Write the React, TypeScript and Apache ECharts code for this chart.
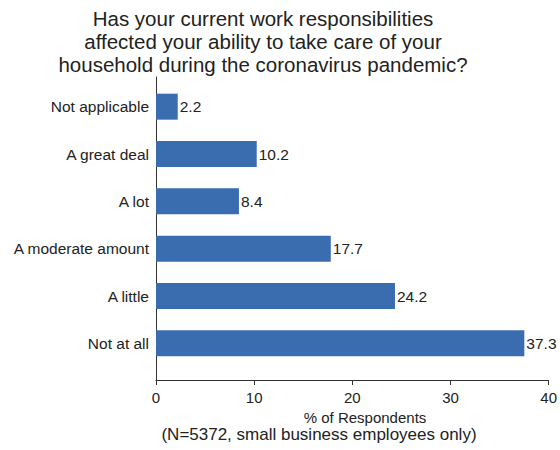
import React, { useEffect, useRef } from "react";
import * as echarts from "echarts";

const categories = [
  "Not applicable",
  "A great deal",
  "A lot",
  "A moderate amount",
  "A little",
  "Not at all",
];
const values = [2.2, 10.2, 8.4, 17.7, 24.2, 37.3];
const xTicks = { min: 0, max: 40, interval: 10 };
const titleText =
  "Has your current work responsibilities\naffected your ability to take care of your\nhousehold during the coronavirus pandemic?";
const axisTitle = "% of Respondents";
const noteText = "(N=5372, small business employees only)";

const FONT = "'Liberation Sans', Arial, Helvetica, sans-serif";
const TXT = "#222";
const BAR = "#3a6db0";

export default function App() {
  const ref = useRef<HTMLDivElement>(null);
  useEffect(() => {
    if (!ref.current) return;
    const chart = echarts.init(ref.current, undefined, { renderer: "svg" });
    chart.setOption({
      animation: false,
      backgroundColor: "#ffffff",
      textStyle: { fontFamily: FONT },
      title: [
        {
          text: titleText,
          left: 258,
          top: 2,
          textAlign: "center",
          textStyle: {
            fontFamily: FONT,
            fontSize: 20.5,
            fontWeight: "normal",
            color: TXT,
            lineHeight: 23,
          },
        },
        {
          text: axisTitle,
          left: 360,
          top: 405,
          textAlign: "center",
          textStyle: {
            fontFamily: FONT,
            fontSize: 15,
            fontWeight: "normal",
            color: TXT,
          },
        },
        {
          text: noteText,
          left: 314,
          top: 421,
          textAlign: "center",
          textStyle: {
            fontFamily: FONT,
            fontSize: 17,
            fontWeight: "normal",
            color: TXT,
          },
        },
      ],
      grid: [
        { left: 156, right: 9, top: 83, height: 284, containLabel: false },
        { left: 156, right: 9, top: 77, bottom: 70, containLabel: false },
      ],
      xAxis: [
        {
          gridIndex: 0,
          type: "value",
          min: xTicks.min,
          max: xTicks.max,
          interval: xTicks.interval,
          show: false,
        },
        {
          gridIndex: 1,
          type: "value",
          min: xTicks.min,
          max: xTicks.max,
          interval: xTicks.interval,
          axisLine: { show: true, lineStyle: { color: "#333", width: 1 } },
          axisTick: { show: true, length: 5, lineStyle: { color: "#333" } },
          axisLabel: { fontFamily: FONT, fontSize: 15, color: TXT, margin: 10 },
          splitLine: { show: false },
        },
      ],
      yAxis: [
        {
          gridIndex: 0,
          type: "category",
          data: categories,
          inverse: true,
          axisLine: { show: false },
          axisTick: { show: false },
          axisLabel: { fontFamily: FONT, fontSize: 15.5, color: TXT, margin: 7 },
        },
        {
          gridIndex: 1,
          type: "value",
          min: 0,
          max: 1,
          axisLine: { show: true, lineStyle: { color: "#333", width: 1 } },
          axisTick: { show: false },
          axisLabel: { show: false },
          splitLine: { show: false },
        },
      ],
      series: [
        {
          type: "bar",
          xAxisIndex: 0,
          yAxisIndex: 0,
          data: values,
          barWidth: 26,
          itemStyle: { color: BAR },
          label: {
            show: true,
            position: "right",
            distance: 2,
            fontFamily: FONT,
            fontSize: 15.5,
            color: TXT,
            formatter: (p: any) => p.value.toFixed(1),
          },
        },
      ],
    });
    return () => chart.dispose();
  }, []);
  return <div ref={ref} style={{ width: 560, height: 450, position: "absolute", left: 0, top: 0 }} />;
}
